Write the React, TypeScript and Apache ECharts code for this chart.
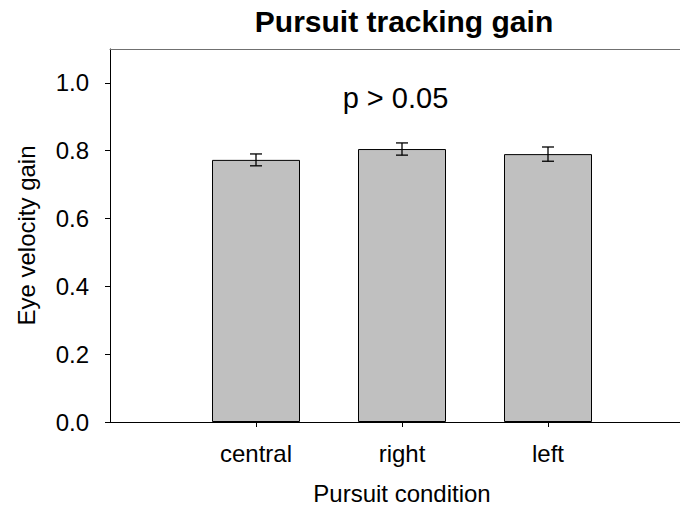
import React, { useEffect, useRef } from "react";
import * as echarts from "echarts";

const categories = ["central", "right", "left"];
const positions = [1, 2, 3];
const gainMeans = [0.773, 0.805, 0.79];
const gainErrors = [0.0175, 0.018, 0.021];
const yTicks = [0, 0.2, 0.4, 0.6, 0.8, 1.0];
const chartTitle = "Pursuit tracking gain";
const statText = "p > 0.05";

const FONT = "'Liberation Sans', Arial, Helvetica, sans-serif";

export default function App() {
  const ref = useRef<HTMLDivElement>(null);
  useEffect(() => {
    if (!ref.current) return;
    const chart = echarts.init(ref.current, null, { renderer: "svg" });
    const barData = positions.map((p, i) => [p, gainMeans[i]]);
    const errData = positions.map((p, i) => [p, gainMeans[i] - gainErrors[i], gainMeans[i] + gainErrors[i]]);
    chart.setOption({
      animation: false,
      backgroundColor: "#ffffff",
      textStyle: { fontFamily: FONT },
      grid: {
        left: 110,
        top: 49,
        right: -14,
        bottom: 83,
        containLabel: false,
        outerBoundsMode: "none",
        show: false,
      },
      xAxis: [
        {
          type: "value",
          min: 0,
          max: 4,
          interval: 1,
          name: "Pursuit condition",
          nameLocation: "middle",
          nameGap: 59,
          nameTextStyle: { fontSize: 24, color: "#000", fontFamily: FONT },
          axisLine: { show: true, lineStyle: { color: "#000", width: 1 } },
          axisTick: { show: true, length: 5, lineStyle: { color: "#000" }, customValues: positions },
          axisLabel: {
            fontSize: 24,
            color: "#000",
            fontFamily: FONT,
            margin: 19,
            customValues: positions,
            formatter: (v: number) => {
              const idx = positions.indexOf(v);
              return idx >= 0 ? categories[idx] : "";
            },
          },
          splitLine: { show: false },
        },
        {
          type: "value",
          position: "top",
          min: 0,
          max: 4,
          interval: 1,
          axisLine: { show: true, onZero: false, lineStyle: { color: "#707070", width: 1 } },
          axisTick: { show: false },
          axisLabel: { show: false },
          splitLine: { show: false },
        },
      ],
      yAxis: {
        type: "value",
        min: 0,
        max: 1.1,
        name: "Eye velocity gain",
        nameLocation: "middle",
        nameGap: 72,
        nameTextStyle: { fontSize: 24, color: "#000", fontFamily: FONT },
        axisLine: { show: true, lineStyle: { color: "#000", width: 1 } },
        axisTick: { show: true, length: 5, lineStyle: { color: "#000" }, customValues: yTicks },
        axisLabel: {
          fontSize: 24,
          color: "#000",
          fontFamily: FONT,
          margin: 21,
          customValues: yTicks,
          formatter: (v: number) => v.toFixed(1),
        },
        splitLine: { show: false },
      },
      graphic: [
        {
          type: "text",
          x: 404,
          y: 21,
          style: {
            text: chartTitle,
            fontSize: 30,
            fontWeight: "bold",
            fontFamily: FONT,
            fill: "#000",
            align: "center",
            verticalAlign: "middle",
          },
        },
        {
          type: "text",
          x: 395.5,
          y: 98,
          style: {
            text: statText,
            fontSize: 29,
            fontFamily: FONT,
            fill: "#000",
            align: "center",
            verticalAlign: "middle",
          },
        },
      ],
      series: [
        {
          type: "bar",
          xAxisIndex: 0,
          data: barData,
          barWidth: 88,
          itemStyle: { color: "#c0c0c0", borderColor: "#000", borderWidth: 1 },
          z: 2,
        },
        {
          type: "custom",
          xAxisIndex: 0,
          data: errData,
          z: 3,
          renderItem: (params: any, api: any) => {
            const x = api.value(0);
            const lo = api.coord([x, api.value(1)]);
            const hi = api.coord([x, api.value(2)]);
            const w = 6;
            const style = { stroke: "#000", lineWidth: 1.3 };
            return {
              type: "group",
              children: [
                { type: "line", shape: { x1: lo[0], y1: lo[1], x2: hi[0], y2: hi[1] }, style },
                { type: "line", shape: { x1: lo[0] - w, y1: lo[1], x2: lo[0] + w, y2: lo[1] }, style },
                { type: "line", shape: { x1: hi[0] - w, y1: hi[1], x2: hi[0] + w, y2: hi[1] }, style },
              ],
            };
          },
        },
      ],
    });
    return () => chart.dispose();
  }, []);
  return (
    <div
      ref={ref}
      style={{ position: "fixed", left: 0, top: 0, width: 680, height: 505 }}
    />
  );
}
